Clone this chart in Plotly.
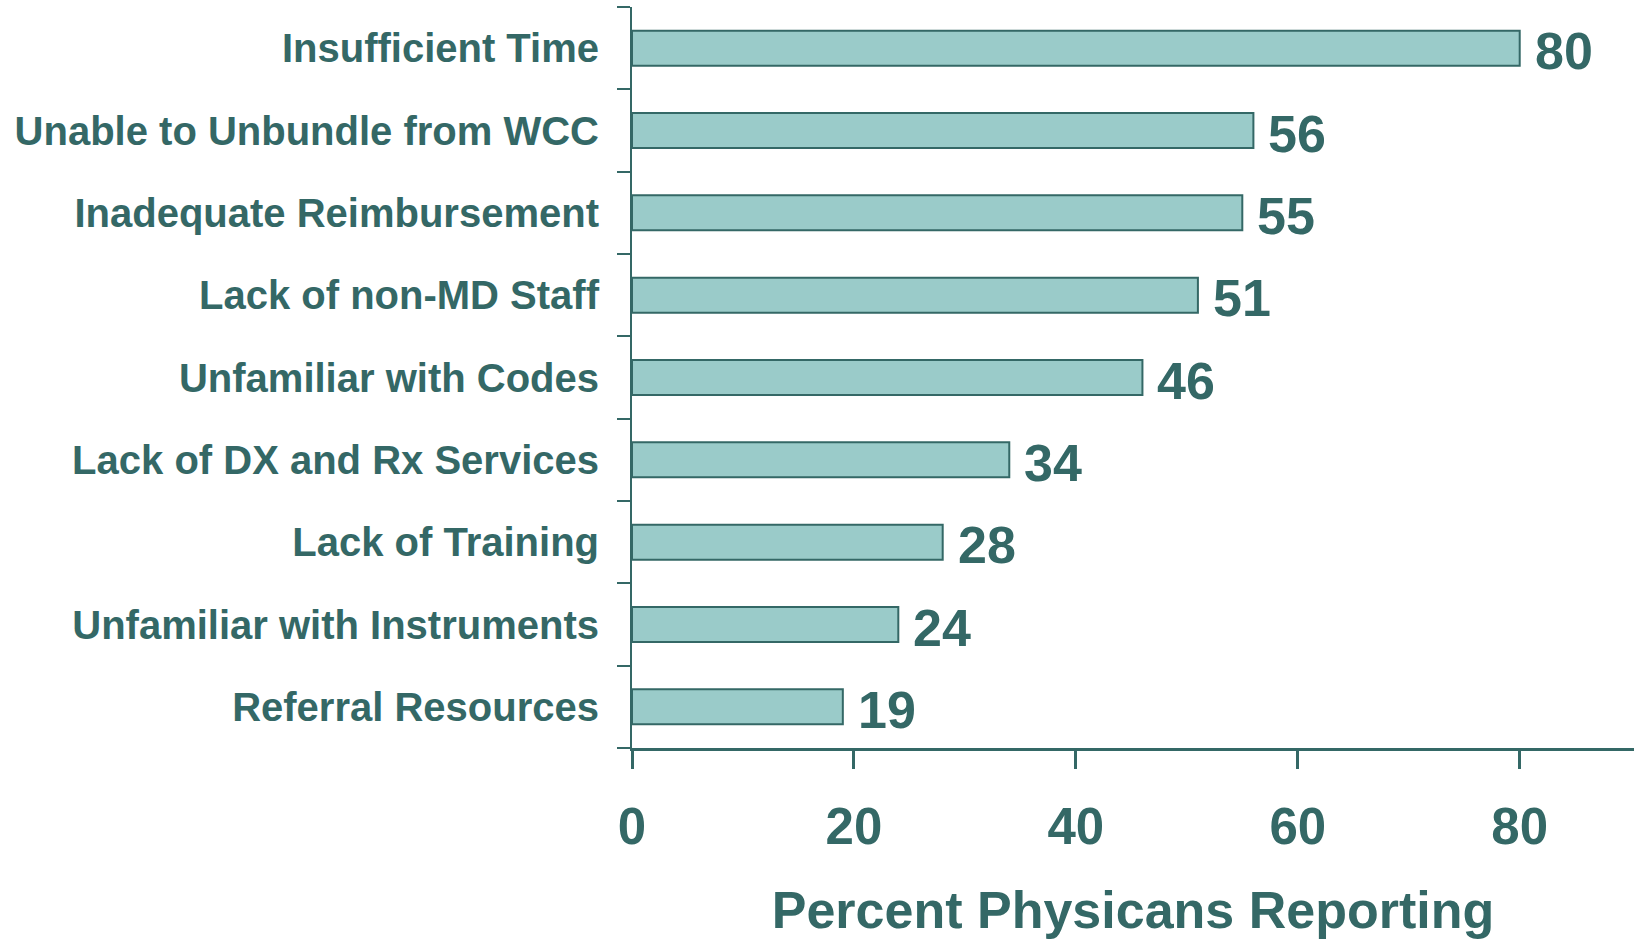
import plotly.graph_objects as go

categories = [
    "Insufficient Time",
    "Unable to Unbundle from WCC",
    "Inadequate Reimbursement",
    "Lack of non-MD Staff",
    "Unfamiliar with Codes",
    "Lack of DX and Rx Services",
    "Lack of Training",
    "Unfamiliar with Instruments",
    "Referral Resources",
]
values = [80, 56, 55, 51, 46, 34, 28, 24, 19]
x_ticks = [0, 20, 40, 60, 80]
x_title = "Percent Physicans Reporting"

TEAL = "#346866"
FILL = "#9ACBC9"
FONT = "Liberation Sans"

# reverse so first category is at top
cats_r = categories[::-1]
vals_r = values[::-1]

fig = go.Figure()
fig.add_trace(go.Bar(
    x=vals_r, y=cats_r, orientation="h",
    marker=dict(color=FILL, line=dict(color=TEAL, width=2)),
    hoverinfo="skip",
))

for c, v in zip(cats_r, vals_r):
    fig.add_annotation(
        x=v, y=c, text=str(v), showarrow=False,
        xanchor="left", yanchor="middle", xshift=13, yshift=-3,
        font=dict(family=FONT, size=52, color=TEAL, weight="bold"),
    )

fig.update_layout(
    width=1637, height=939,
    margin=dict(l=632, r=3, t=7, b=191),
    plot_bgcolor="white", paper_bgcolor="white",
    bargap=0.575,
    showlegend=False,
)
fig.update_xaxes(
    range=[0, 90.3], tickvals=x_ticks, ticktext=[str(t) for t in x_ticks],
    showgrid=False, zeroline=False, automargin=False,
    showline=True, linecolor=TEAL, linewidth=3,
    ticks="outside", ticklen=18, tickwidth=3, tickcolor=TEAL,
    tickfont=dict(family=FONT, size=51, color=TEAL, weight="bold"),
    ticklabelstandoff=14,
    title=dict(text=x_title, standoff=42,
               font=dict(family=FONT, size=52, color=TEAL, weight="bold")),
)
fig.update_yaxes(
    range=[-0.5, 8.5], categoryorder="array", categoryarray=cats_r,
    showgrid=False, zeroline=False, automargin=False,
    showline=True, linecolor=TEAL, linewidth=2,
    ticks="outside", ticklen=13, tickwidth=2, tickcolor=TEAL,
    tickson="boundaries",
    tickfont=dict(family=FONT, size=40, color=TEAL, weight="bold"),
    ticklabelstandoff=23,
)

fig.write_html(
    "out.html",
    config={"displayModeBar": False},
    post_script="document.body.style.margin='0';document.body.style.overflow='hidden';",
)
